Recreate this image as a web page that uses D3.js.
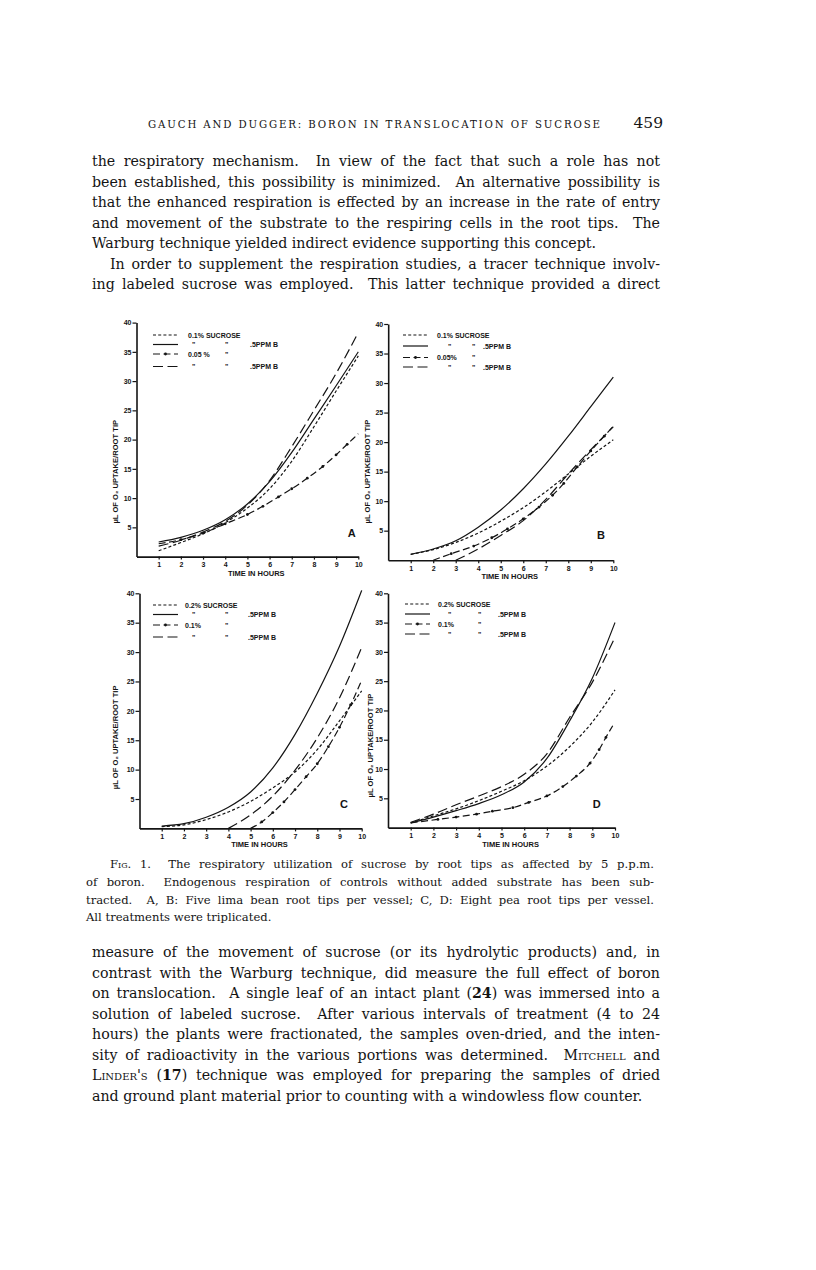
<!DOCTYPE html>
<html><head><meta charset="utf-8">
<script src="https://cdn.jsdelivr.net/npm/d3@7/dist/d3.min.js"></script>
<style>
body{margin:0;background:#fff}
svg text{fill:#141414}
.prose{font-family:"DejaVu Serif",serif;white-space:pre}
.lab{font-family:"Liberation Sans",Arial,sans-serif;font-weight:bold}
</style>
</head><body>
<svg id="page" width="816" height="1270"></svg>
<script>
// ---------------- DATA ----------------
const hours = [1,2,3,4,5,6,7,8,9,10];
const xTickValues = [1,2,3,4,5,6,7,8,9,10];
const yTickValues = [5,10,15,20,25,30,35,40];
const panelLetters = ["A","B","C","D"];
const xAxisTitle = "TIME IN HOURS";
const yAxisTitle = "µL OF O₂ UPTAKE/ROOT TIP";

// Panel A (lima bean)
const A_s1 = [1.0, 2.4, 3.9, 5.8, 8.3, 11.6, 16.3, 22.2, 28.3, 34.3];      // 0.1% sucrose
const A_s2 = [2.5, 3.3, 4.5, 6.3, 9.0, 12.8, 17.8, 23.5, 29.2, 35.0];      // 0.1% + .5ppm B
const A_s3x = [1, 2, 3, 4, 5, 5.7, 6.4, 7, 7.7, 8.4, 9, 9.5, 10];          // 0.05%
const A_s3 = [2.2, 2.9, 4.0, 5.6, 7.2, 8.6, 10.2, 11.6, 13.4, 15.4, 17.4, 19.2, 21.0];
const A_s4 = [1.8, 2.8, 4.2, 6.0, 8.8, 13.0, 18.8, 25.0, 31.3, 38.3];      // 0.05% + .5ppm B

// Panel B (lima bean)
const B_s1 = [1.0, 1.8, 3.0, 4.6, 6.6, 8.9, 11.6, 14.6, 17.6, 20.4];
const B_s2 = [1.0, 1.9, 3.3, 5.6, 8.5, 12.1, 16.3, 21.0, 26.0, 31.0];
const B_s3x = [2, 2.8, 3.8, 4.6, 5.3, 6.0, 6.7, 7.3, 7.8, 8.4, 9.0, 9.6, 10];
const B_s3 = [0, 1.1, 2.4, 3.8, 5.3, 7.0, 9.0, 11.0, 13.0, 15.8, 18.5, 21.0, 22.7];
const B_s4x = [3, 4, 5, 6, 7, 8, 9, 10];
const B_s4 = [0, 1.9, 4.2, 6.7, 10.3, 14.6, 18.7, 22.6];

// Panel C (pea)
const C_s1 = [0.3, 0.6, 1.5, 2.8, 4.6, 6.9, 9.6, 13.4, 18.3, 23.4];
const C_s2 = [0.4, 0.8, 1.9, 3.6, 6.2, 10.3, 16.0, 23.0, 31.0, 40.5];
const C_s3x = [5, 5.5, 6, 6.5, 7, 7.5, 8, 8.5, 9, 9.5, 10];
const C_s3 = [0, 1.1, 2.7, 4.5, 6.6, 8.8, 11.0, 13.9, 17.2, 21.0, 25.2];
const C_s4x = [4, 5, 6, 7, 8, 9, 10];
const C_s4 = [0, 2.3, 5.5, 9.9, 15.4, 22.2, 30.8];

// Panel D (pea)
const D_s1 = [0.8, 2.0, 3.2, 4.6, 6.2, 8.0, 10.5, 13.8, 18.0, 23.5];
const D_s2 = [0.8, 1.8, 2.9, 4.1, 5.6, 7.8, 11.8, 18.2, 25.5, 35.0];
const D_s3x = [1, 2.2, 3, 3.9, 4.6, 5.5, 6.2, 7, 7.7, 8.3, 8.9, 9.3, 9.6, 9.9];
const D_s3 = [0.8, 1.4, 1.8, 2.3, 2.8, 3.4, 4.3, 5.4, 7.0, 8.8, 11.0, 13.3, 15.4, 17.4];
const D_s4 = [0.9, 2.3, 3.9, 5.4, 7.0, 9.1, 12.6, 18.8, 24.8, 32.5];

// Legend texts: [text, column] per row
const legendA = [[["0.1% SUCROSE",0]], [['"',1],['"',2],[".5PPM B",3]], [["0.05 %",0],['"',2]], [['"',1],['"',2],[".5PPM B",3]]];
const legendB = [[["0.1% SUCROSE",0]], [['"',1],['"',2],[".5PPM B",3]], [["0.05%",0],['"',2]], [['"',1],['"',2],[".5PPM B",3]]];
const legendC = [[["0.2% SUCROSE",0]], [['"',1],['"',2],[".5PPM B",3]], [["0.1%",0],['"',2]], [['"',1],['"',2],[".5PPM B",3]]];
const legendD = [[["0.2% SUCROSE",0]], [['"',1],['"',2],[".5PPM B",3]], [["0.1%",0],['"',2]], [['"',1],['"',2],[".5PPM B",3]]];

// Page text
const headerText = "GAUCH AND DUGGER: BORON IN TRANSLOCATION OF SUCROSE";
const pageNumber = "459";
const para1 = [
  "the respiratory mechanism.  In view of the fact that such a role has not",
  "been established, this possibility is minimized.  An alternative possibility is",
  "that the enhanced respiration is effected by an increase in the rate of entry",
  "and movement of the substrate to the respiring cells in the root tips.  The",
  "Warburg technique yielded indirect evidence supporting this concept.",
  "In order to supplement the respiration studies, a tracer technique involv-",
  "ing labeled sucrose was employed.  This latter technique provided a direct"
];
const caption = [
  "^Fig.^ 1.  The respiratory utilization of sucrose by root tips as affected by 5 p.p.m.",
  "of boron.  Endogenous respiration of controls without added substrate has been sub-",
  "tracted.  A, B: Five lima bean root tips per vessel; C, D: Eight pea root tips per vessel.",
  "All treatments were triplicated."
];
const para2 = [
  "measure of the movement of sucrose (or its hydrolytic products) and, in",
  "contrast with the Warburg technique, did measure the full effect of boron",
  "on translocation.  A single leaf of an intact plant (*24*) was immersed into a",
  "solution of labeled sucrose.  After various intervals of treatment (4 to 24",
  "hours) the plants were fractionated, the samples oven-dried, and the inten-",
  "sity of radioactivity in the various portions was determined.  ^Mitchell^ and",
  "^Linder's^ (*17*) technique was employed for preparing the samples of dried",
  "and ground plant material prior to counting with a windowless flow counter."
];

// ---------------- LAYOUT ----------------
const svg = d3.select("#page");

const panels = [
  {letter:"A", x0:136.5, x1:358.3, y0:556.6, y1:322.6, letterPos:[9.7,3.4],
   series:[{x:hours,y:A_s1,s:1},{x:hours,y:A_s2,s:2},{x:A_s3x,y:A_s3,s:3},{x:hours,y:A_s4,s:4}],
   legend:legendA, lg:{x:153, rows:[335,344.5,354,366.5], cols:[35,39,72,97]}, ylab:[115,14.5]},
  {letter:"B", x0:388.2, x1:613.3, y0:560.2, y1:324, letterPos:[9.45,3.6],
   series:[{x:hours,y:B_s1,s:1},{x:hours,y:B_s2,s:2},{x:B_s3x,y:B_s3,s:3},{x:B_s4x,y:B_s4,s:4}],
   legend:legendB, lg:{x:403, rows:[335,346,357.5,367], cols:[34,45,69,80]}, ylab:[367,15]},
  {letter:"C", x0:139.5, x1:361.7, y0:828.4, y1:593.3, letterPos:[9.2,3.4],
   series:[{x:hours,y:C_s1,s:1},{x:hours,y:C_s2,s:2},{x:C_s3x,y:C_s3,s:3},{x:C_s4x,y:C_s4,s:4}],
   legend:legendC, lg:{x:153, rows:[605,614.5,625,637], cols:[32,39,72,95]}, ylab:[115,15.5]},
  {letter:"D", x0:388, x1:615, y0:827.6, y1:593.3, letterPos:[9.2,3.4],
   series:[{x:hours,y:D_s1,s:1},{x:hours,y:D_s2,s:2},{x:D_s3x,y:D_s3,s:3},{x:hours,y:D_s4,s:4}],
   legend:legendD, lg:{x:405, rows:[604,614,624,634], cols:[33,43,73,93]}, ylab:[370,14]}
];

const dashes = {1:"3,2.2", 2:null, 3:"7,3.5", 4:"10,4.5"};

panels.forEach(p => {
  const x = d3.scaleLinear().domain([0,10]).range([p.x0,p.x1]);
  const y = d3.scaleLinear().domain([0,40]).range([p.y0,p.y1]);
  const g = svg.append("g");

  const xa = g.append("g").attr("transform",`translate(0,${p.y0})`)
    .call(d3.axisBottom(x).tickValues(xTickValues).tickSize(3).tickSizeOuter(0).tickPadding(2.5).tickFormat(d3.format("d")));
  const ya = g.append("g").attr("transform",`translate(${p.x0},0)`)
    .call(d3.axisLeft(y).tickValues(yTickValues).tickSize(4).tickSizeOuter(0).tickPadding(1).tickFormat(d3.format("d")));
  [xa,ya].forEach(a=>{
    a.select(".domain").attr("stroke","#141414").attr("stroke-width",1.6);
    a.selectAll(".tick line").attr("stroke","#141414").attr("stroke-width",1.2);
    a.selectAll(".tick text").attr("class","lab").attr("font-size",7).attr("fill","#141414");
  });

  g.append("text").attr("class","lab").attr("font-size",7.5)
    .attr("x",x(5.4)).attr("y",p.y0+19).attr("text-anchor","middle").text(xAxisTitle);
  g.append("text").attr("class","lab").attr("font-size",7.6)
    .attr("transform",`translate(${p.ylab[0]},${y(p.ylab[1])}) rotate(-90)`)
    .attr("text-anchor","middle").attr("dy","0.35em").text(yAxisTitle);

  const line = d3.line().x(d=>x(d[0])).y(d=>y(d[1])).curve(d3.curveMonotoneX);
  p.series.forEach(s=>{
    const pts = s.x.map((v,i)=>[v,s.y[i]]);
    g.append("path").attr("d",line(pts)).attr("fill","none").attr("stroke","#141414")
      .attr("stroke-width",1.2).attr("stroke-dasharray",dashes[s.s]);
    if(s.s===3){
      g.selectAll(null).data(pts.slice(1,-1)).enter().append("circle")
        .attr("cx",d=>x(d[0])).attr("cy",d=>y(d[1])).attr("r",1.4).attr("fill","#141414");
    }
  });

  p.legend.forEach((row,i)=>{
    const ry = p.lg.rows[i];
    const st = i+1;
    g.append("line").attr("x1",p.lg.x).attr("x2",p.lg.x+25).attr("y1",ry).attr("y2",ry)
      .attr("stroke","#141414").attr("stroke-width",1.2).attr("stroke-dasharray",dashes[st]);
    if(st===3) g.append("circle").attr("cx",p.lg.x+12.5).attr("cy",ry).attr("r",1.4).attr("fill","#141414");
    row.forEach(([t,c])=>{
      g.append("text").attr("class","lab").attr("font-size",7)
        .attr("x",p.lg.x+p.lg.cols[c]).attr("y",ry+2.5).text(t);
    });
  });

  g.append("text").attr("class","lab").attr("font-size",11)
    .attr("x",x(p.letterPos[0])).attr("y",y(p.letterPos[1])).attr("text-anchor","middle").text(p.letter);
});

// ---------------- PROSE ----------------
function richLine(sel, str, x, yy, size, width, justify){
  const t = sel.append("text").attr("class","prose").attr("x",x).attr("y",yy).attr("font-size",size);
  const parts = str.split(/(\*[^*]+\*|\^[^^]+\^)/).filter(s=>s.length);
  parts.forEach(pt=>{
    if(pt.startsWith("*")) t.append("tspan").attr("font-weight","bold").text(pt.slice(1,-1));
    else if(pt.startsWith("^")) t.append("tspan").attr("font-variant","small-caps").text(pt.slice(1,-1));
    else t.append("tspan").text(pt);
  });
  if(justify){
    const natural = t.node().getComputedTextLength();
    const plain = str.replace(/[*^]/g,"");
    const nsp = (plain.match(/ /g)||[]).length;
    if(nsp>0) t.attr("word-spacing",(width-natural)/nsp);
  }
  return t;
}

svg.append("text").attr("class","prose").attr("x",148).attr("y",127.5).attr("font-size",10.2)
  .attr("textLength",452).attr("lengthAdjust","spacing").text(headerText);
svg.append("text").attr("class","prose").attr("x",663).attr("y",128).attr("font-size",15.5)
  .attr("text-anchor","end").text(pageNumber);

const L = 92, R = 660, W = R-L;
para1.forEach((s,i)=>{
  const indent = i===5 ? 18 : 0;
  richLine(svg, s, L+indent, 166+i*20.5, 14.2, W-indent, i!==4);
});
caption.forEach((s,i)=>{
  const left = i===0 ? 110 : 86;
  richLine(svg, s, left, 868+i*17.8, 11.6, 654-left, i!==3);
});
para2.forEach((s,i)=>{
  richLine(svg, s, L, 957+i*20.5, 14.2, W, i!==7);
});
</script>
</body></html>
